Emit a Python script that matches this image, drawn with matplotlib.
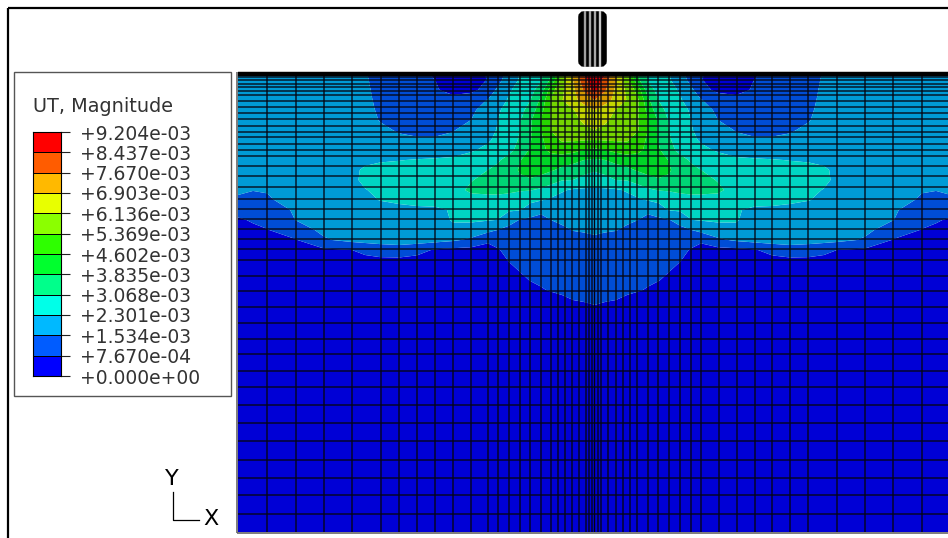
import matplotlib
matplotlib.use("Agg")
import matplotlib.pyplot as plt
from matplotlib.patches import FancyBboxPatch, Rectangle
import numpy as np

# legend
title = "UT, Magnitude"
tick_labels = ["+0.000e+00", "+7.670e-04", "+1.534e-03", "+2.301e-03", "+3.068e-03", "+3.835e-03",
               "+4.602e-03", "+5.369e-03", "+6.136e-03", "+6.903e-03", "+7.670e-03", "+8.437e-03", "+9.204e-03"]
tick_values = [float(s) for s in tick_labels]
legend_colors = ["#0000ff", "#005cff", "#00b9ff", "#00ffe8", "#00ff8b", "#00ff2e",
                 "#2eff00", "#8bff00", "#e8ff00", "#ffb900", "#ff5c00", "#ff0000"]
band_colors = ["#0000d6", "#004dd6", "#009bd6", "#00d6c3", "#00d675", "#00d627",
               "#27d600", "#75d600", "#c3d600", "#d69b00", "#d64d00", "#d60000"]

# mesh lines
mesh_x = [267, 296, 324, 352, 381, 399, 417, 435, 453, 471, 488, 498, 509, 520, 530, 541, 551, 558, 565,
          572, 579, 586, 589, 592, 594.5, 598, 601, 608, 616, 623, 630, 637, 648, 658, 669, 680, 691, 701,
          719, 737, 755, 772, 790, 808, 837, 865, 893, 922]
mesh_y = [77, 80, 84, 87, 91, 95, 101, 107, 113, 119, 126, 132, 137, 144, 150, 156, 166, 176, 187, 199, 209,
          219, 229, 239, 249, 260, 276, 291, 307, 323, 339, 354, 371, 387, 405, 423, 441, 460, 478, 495, 514]

# field, left half of the symmetric plot, in legend steps
field_x = [238, 253, 267, 296, 324, 352, 365, 380, 399, 417, 435, 453, 471, 488, 498, 509, 520, 530, 541, 551, 562, 573, 584, 594.5]
field_y = [73, 80, 90, 100, 110, 120, 130, 140, 150, 160, 170, 180, 190, 200, 210, 220, 230, 240, 250, 260, 270, 280, 290, 300, 310, 320, 532]
field = [
    [2.5, 2.5, 2.5, 2.5, 2.5, 2.5, 2.05, 1.7, 1.4, 1.1, .95, .6, .7, 1.05, 1.5, 2.4, 3.05, 3.4, 3.8, 5, 7.5, 9, 11.2, 12],
    [2.5, 2.5, 2.5, 2.5, 2.5, 2.5, 2.1, 1.7, 1.45, 1.2, 1, .5, .6, 1.05, 1.7, 2.5, 3.1, 3.5, 3.9, 5.2, 7.4, 9, 10.6, 11.9],
    [2.5, 2.5, 2.5, 2.5, 2.5, 2.5, 2.15, 1.75, 1.5, 1.3, 1.1, .7, .8, 1.3, 2.25, 2.9, 3.3, 3.7, 4.4, 6.6, 7.8, 8.8, 10.1, 11.4],
    [2.5, 2.5, 2.5, 2.5, 2.5, 2.5, 2.2, 1.8, 1.6, 1.4, 1.3, 1.3, 1.5, 2.05, 2.6, 3.1, 3.55, 3.95, 5.2, 7.1, 7.95, 8.7, 9.4, 10],
    [2.5, 2.5, 2.5, 2.5, 2.5, 2.5, 2.3, 1.85, 1.6, 1.5, 1.45, 1.5, 1.8, 2.45, 2.9, 3.3, 3.75, 4.3, 5.7, 7.05, 7.5, 7.95, 8.5, 9],
    [2.5, 2.5, 2.5, 2.5, 2.5, 2.5, 2.4, 1.95, 1.7, 1.6, 1.6, 1.65, 2, 2.6, 3, 3.45, 3.9, 4.8, 6, 7.05, 7.4, 7.75, 8.15, 8.6],
    [2.5, 2.5, 2.5, 2.5, 2.5, 2.5, 2.6, 2.2, 1.9, 1.8, 1.8, 1.95, 2.3, 2.8, 3.05, 3.5, 4, 4.85, 6, 7.05, 7.3, 7.55, 7.8, 8],
    [2.5, 2.5, 2.5, 2.5, 2.5, 2.5, 2.65, 2.45, 2.2, 2.1, 2.1, 2.2, 2.5, 2.9, 3.2, 3.6, 4.1, 4.9, 5.8, 6.6, 7.1, 7.1, 7.05, 7],
    [2.5, 2.5, 2.5, 2.5, 2.5, 2.5, 2.7, 2.6, 2.45, 2.4, 2.5, 2.65, 2.9, 3.2, 3.4, 3.75, 4.3, 5.1, 5.8, 6.2, 6.5, 6.3, 6, 5.8],
    [2.5, 2.5, 2.5, 2.5, 2.5, 2.7, 2.85, 2.9, 2.97, 3.05, 3.1, 3.15, 3.35, 3.6, 3.9, 4.3, 4.95, 5.4, 5.6, 5.6, 5.4, 5.2, 5, 4.9],
    [2.5, 2.5, 2.5, 2.5, 2.5, 2.85, 3.1, 3.3, 3.35, 3.4, 3.45, 3.55, 3.8, 4, 4.2, 4.6, 5.1, 5.4, 5.3, 5.1, 4.8, 4.7, 4.3, 4.1],
    [2.5, 2.5, 2.5, 2.5, 2.5, 2.85, 3.15, 3.35, 3.4, 3.5, 3.5, 3.7, 3.95, 4.25, 4.35, 4.5, 4.85, 4.9, 4.7, 4.4, 4.05, 4, 3.7, 3.5],
    [2.1, 2.02, 2.05, 2.4, 2.5, 2.7, 2.97, 3.15, 3.2, 3.3, 3.4, 3.7, 4.15, 4.2, 4.25, 4.2, 4.1, 4.05, 3.85, 3.5, 3.1, 2.9, 2.85, 2.85],
    [1.9, 1.8, 1.9, 2.3, 2.5, 2.7, 2.85, 3.02, 3.1, 3.15, 3.2, 3.4, 3.7, 3.75, 3.7, 3.6, 3.35, 3.2, 3.05, 2.85, 2.7, 2.65, 2.6, 2.6],
    [1.6, 1.5, 1.6, 2.1, 2.4, 2.5, 2.6, 2.75, 2.85, 2.9, 2.9, 3.05, 3.25, 3.3, 3.2, 3.1, 3.05, 2.6, 2.15, 2.25, 2.4, 2.4, 2.35, 2.35],
    [.8, 1.15, 1.4, 2.02, 2.3, 2.45, 2.5, 2.55, 2.6, 2.7, 2.75, 3.05, 3.1, 3.05, 2.98, 2.4, 1.95, 1.8, 1.8, 2, 2.15, 2.2, 2.2, 2.2],
    [.5, .7, .95, 1.6, 2.2, 2.4, 2.45, 2.5, 2.55, 2.6, 2.65, 2.85, 2.7, 2.3, 1.98, 1.7, 1.6, 1.5, 1.5, 1.65, 1.85, 2.03, 2.05, 2.05],
    [.35, .5, .7, .95, 1.9, 2.25, 2.3, 2.35, 2.4, 2.4, 2.35, 2.15, 1.8, 1.1, 1.25, 1.4, 1.35, 1.3, 1.3, 1.4, 1.55, 1.7, 1.85, 1.95],
    [.2, .3, .4, .6, .85, 1, 1.3, 1.5, 1.6, 1.35, .9, .75, .7, .8, .95, 1.2, 1.2, 1.2, 1.2, 1.3, 1.45, 1.55, 1.7, 1.75],
    [.15, .2, .25, .35, .5, .6, .7, .8, .8, .7, .5, .4, .4, .5, .7, 1.05, 1.15, 1.15, 1.15, 1.2, 1.3, 1.4, 1.5, 1.55],
    [.1, .1, .1, .2, .3, .35, .4, .4, .4, .4, .3, .3, .3, .3, .4, .8, 1.05, 1.1, 1.15, 1.2, 1.25, 1.3, 1.35, 1.4],
    [.1, .1, .1, .1, .2, .2, .2, .2, .2, .2, .2, .2, .2, .3, .3, .5, .8, 1.03, 1.1, 1.15, 1.2, 1.25, 1.25, 1.3],
    [.1, .1, .1, .1, .1, .1, .1, .1, .1, .1, .1, .1, .1, .2, .2, .3, .5, .7, .95, 1.05, 1.1, 1.15, 1.15, 1.2],
    [.1, .1, .1, .1, .1, .1, .1, .1, .1, .1, .1, .1, .1, .1, .1, .2, .3, .4, .6, .75, .9, 1, 1.05, 1.1],
    [.1, .1, .1, .1, .1, .1, .1, .1, .1, .1, .1, .1, .1, .1, .1, .1, .2, .3, .4, .5, .5, .7, .8, .9],
    [.1, .1, .1, .1, .1, .1, .1, .1, .1, .1, .1, .1, .1, .1, .1, .1, .1, .1, .2, .3, .3, .4, .5, .6],
    [.1, .1, .1, .1, .1, .1, .1, .1, .1, .1, .1, .1, .1, .1, .1, .1, .1, .1, .1, .1, .1, .1, .1, .1],
]

# indenter stripes
stripe_x = [585.5, 590.5, 595.5, 600.5]
stripe_gray = ["#a0a0a0", "#a8a8a8", "#a8a8a8", "#c8c8c8"]

W, H = 948, 538
fig = plt.figure(figsize=(W / 100, H / 100), dpi=100)
ax = fig.add_axes([0, 0, 1, 1])
ax.set_xlim(0, W)
ax.set_ylim(H, 0)
ax.axis("off")

# contour bands, right half is the mirror of the left
half = np.array(field)
xs = np.array(field_x)
x_full = np.concatenate([xs, 2 * xs[-1] - xs[-2::-1]])
z_full = np.hstack([half, half[:, -2::-1]])
ax.contourf(x_full, field_y, z_full, levels=np.arange(13), colors=band_colors, antialiased=True)

# mesh
vl = ax.vlines(mesh_x, 73, 532, color="#050510", lw=0.95)
hl = ax.hlines(mesh_y, 238, W, color="#050510", lw=0.95)
vl.set_snap(False)
hl.set_snap(False)
ax.hlines(73.5, 238, W, color="black", lw=3.2)
ax.hlines(532.5, 237, W, color="#666666", lw=1.2)
ax.vlines(237.5, 72, 533, color="#666666", lw=1.2)

# indenter
ax.add_patch(FancyBboxPatch((581, 14), 23, 50, boxstyle="round,pad=0,rounding_size=3",
                            mutation_aspect=1, fc="black", ec="black", lw=4))
ax.vlines(stripe_x, 11, 67, colors=stripe_gray, lw=1.7)

# frame
ax.hlines(8, 8, W, color="black", lw=1.6)
ax.vlines(8, 8, H, color="black", lw=1.6)

# legend box
ax.add_patch(Rectangle((14, 72), 217, 324, fc="white", ec="#555555", lw=1.0))
ax.text(33, 106, title, fontsize=13.9, color="#333333", va="center", ha="left")

cax = fig.add_axes([33 / W, 1 - 376 / H, 28 / W, 244 / H])
cax.pcolormesh([0, 1], tick_values, np.arange(12).reshape(-1, 1),
               cmap=matplotlib.colors.ListedColormap(legend_colors), edgecolors="black", linewidth=0.6)
cax.set_xticks([])
cax.yaxis.tick_right()
cax.set_yticks(tick_values, tick_labels, fontsize=13.5, color="#333333")
cax.tick_params(axis="y", length=6.5, width=0.8, pad=7, color="#222222")
for s in cax.spines.values():
    s.set_linewidth(0.8)

# triad
ax.plot([173, 173, 199], [492, 520, 520], color="black", lw=0.9)
ax.text(172, 479, "Y", fontsize=16, ha="center", va="center", color="black")
ax.text(211, 519, "X", fontsize=16, ha="center", va="center", color="black")

fig.savefig("out.png", dpi=100)
